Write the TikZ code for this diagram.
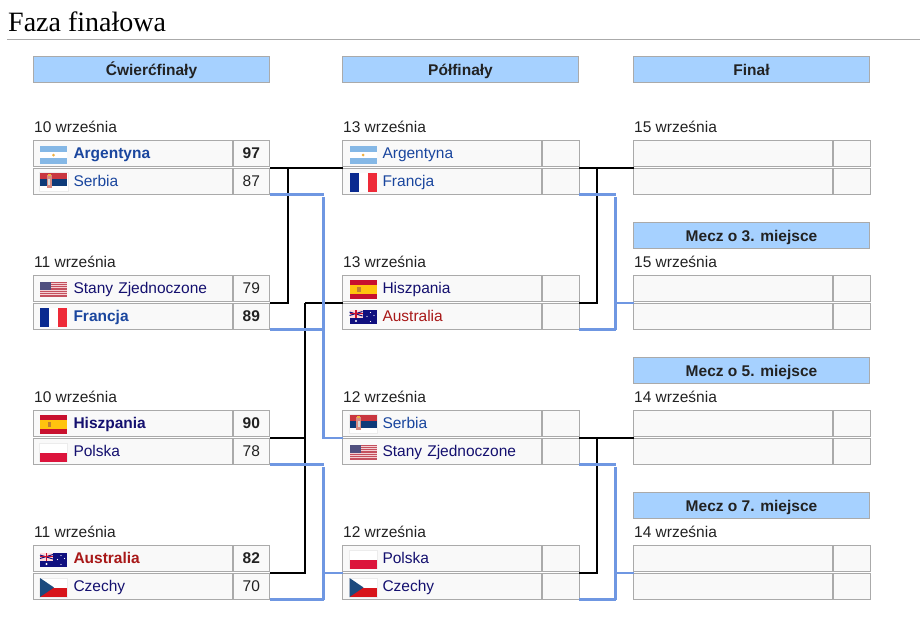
\documentclass[tikz,border=0pt]{standalone}
\usepackage{fontspec}
\setmainfont{Liberation Sans}
\newfontfamily\titlefont{Liberation Serif}
\definecolor{headblue}{HTML}{A6D1FF}
\definecolor{cellgray}{HTML}{F9F9F9}
\definecolor{bordergray}{HTML}{AAAAAA}
\definecolor{loseblue}{HTML}{6F97E2}
\definecolor{linkblue}{HTML}{1A469E}
\definecolor{visitblue}{HTML}{14106F}
\definecolor{redlink}{HTML}{A81818}
\definecolor{inktext}{HTML}{222222}
\definecolor{flagsky}{HTML}{85B8E6}
\definecolor{flaggold}{HTML}{EFB040}
\definecolor{flagred}{HTML}{C9363F}
\definecolor{flagnavy}{HTML}{0E3A78}
\definecolor{flagcrest}{HTML}{D98A80}
\definecolor{flagfrab}{HTML}{0A2A90}
\definecolor{flagfrar}{HTML}{EE2A38}
\definecolor{flagpink}{HTML}{F3CFD3}
\definecolor{flagstripe}{HTML}{C4505E}
\definecolor{flagcanton}{HTML}{50507F}
\definecolor{flagespr}{HTML}{C8102E}
\definecolor{flagespy}{HTML}{FFC30F}
\definecolor{flagespm}{HTML}{C08030}
\definecolor{flagausb}{HTML}{10107F}
\definecolor{flagpolr}{HTML}{DC143C}
\definecolor{flagczeb}{HTML}{1C4A7E}
\definecolor{flagczer}{HTML}{D7141A}
\tikzset{
    cell/.style={draw=bordergray, fill=cellgray, line width=1pt, inner sep=0pt, outer sep=0pt, anchor=north west},
    team/.style={cell, text width=199pt, minimum height=26.5pt, align=left, font=\fontsize{15.5}{18}\selectfont,
        execute at begin node={\hspace*{40pt}\rule[-8.2pt]{0pt}{26.5pt}}},
    score/.style={cell, minimum width=36.5pt, minimum height=26.5pt, text=inktext, font=\fontsize{15.5}{18}\selectfont},
    head/.style={cell, fill=headblue, minimum width=236pt, minimum height=26pt, text=inktext,
        text height=13pt, text depth=2pt, font=\fontsize{15.5}{18}\selectfont\bfseries},
    datelab/.style={anchor=base west, inner sep=0pt, text=inktext, font=\fontsize{15.5}{18}\selectfont},
    winline/.style={black, line width=2pt},
    loseline/.style={loseblue, line width=2.5pt},
    losethick/.style={loseblue, line width=3pt},
    losethin/.style={loseblue, line width=2pt},
}
% flags: #1 = left edge, #2 = middle of the flag
\newcommand{\flagarg}[2]{\begin{scope}[shift={(#1,#2)}]
    \fill [white] (0,-9) rectangle (27,9);
    \fill [flagsky] (0,-9) rectangle (27,-3);
    \fill [flagsky] (0,3) rectangle (27,9);
    \fill [flaggold] (13.5,0) circle (1.5);
\end{scope}}
\newcommand{\flagsrb}[2]{\begin{scope}[shift={(#1,#2)}]
    \draw [gray!15, fill=white] (-0.5,-9.5) rectangle (28,9.5);
    \fill [flagred] (0,-9.5) rectangle (27,-3);
    \fill [flagnavy] (0,-3) rectangle (27,3.5);
    \fill [flagcrest] (6.5,-7) rectangle (11.5,6);
    \fill [flaggold] (7.5,-8.5) rectangle (10.5,-6);
    \fill [white!70!gray] (8,-3) rectangle (10,3);
\end{scope}}
\newcommand{\flagfra}[2]{\begin{scope}[shift={(#1,#2)}]
    \fill [white] (0,-9.5) rectangle (27,9.5);
    \fill [flagfrab] (0,-9.5) rectangle (9,9.5);
    \fill [flagfrar] (18,-9.5) rectangle (27,9.5);
\end{scope}}
\newcommand{\flagusa}[2]{\begin{scope}[shift={(#1,#2)}]
    \fill [flagpink] (0,-7.5) rectangle (27,7.5);
    \fill [flagstripe] (0,-7.5) rectangle (27,-6.4);
    \fill [flagstripe] (0,-5.2) rectangle (27,-4.1);
    \fill [flagstripe] (0,-2.9) rectangle (27,-1.8);
    \fill [flagstripe] (0,-0.6) rectangle (27,0.5);
    \fill [flagstripe] (0,1.7) rectangle (27,2.8);
    \fill [flagstripe] (0,4) rectangle (27,5.1);
    \fill [flagstripe] (0,6.3) rectangle (27,7.5);
    \fill [flagcanton] (0,-7.5) rectangle (11,0.5);
\end{scope}}
\newcommand{\flagesp}[2]{\begin{scope}[shift={(#1,#2)}]
    \fill [flagespr] (0,-9.5) rectangle (27,9.5);
    \fill [flagespy] (0,-4.7) rectangle (27,4.7);
    \fill [flagespm] (7.5,-2.5) rectangle (11,2.5);
\end{scope}}
\newcommand{\flagaus}[2]{\begin{scope}[shift={(#1,#2)}]
    \fill [flagausb] (0,-7) rectangle (27,7);
    \fill [white!85!red] (0,-7) rectangle (13,0.5);
    \draw [flagausb, line width=1pt] (0,-5) -- (13,-1) (0,-1.5) -- (13,-5.5);
    \draw [flagespr, line width=1.2pt] (6.5,-7) -- (6.5,0.5) (0,-3.3) -- (13,-3.3);
    \fill [white] (6.5,4) circle (1.2);
    \fill [white] (21,-4.5) circle (0.6) (17.5,-0.5) circle (0.6) (24.5,-1.5) circle (0.6) (21,4.5) circle (0.7);
\end{scope}}
\newcommand{\flagpol}[2]{\begin{scope}[shift={(#1,#2)}]
    \draw [gray!15, fill=white] (-0.5,-9.5) rectangle (27.5,9);
    \fill [flagpolr] (0,0) rectangle (27,9);
\end{scope}}
\newcommand{\flagcze}[2]{\begin{scope}[shift={(#1,#2)}]
    \draw [gray!15, fill=white] (-0.5,-9.5) rectangle (27.5,9.5);
    \fill [flagczer] (0,0) rectangle (27,9.5);
    \fill [flagczeb] (0,-9.5) -- (14,0) -- (0,9.5) -- cycle;
\end{scope}}

\begin{document}
\begin{tikzpicture}[x=1pt, y=-1pt]
    \useasboundingbox (0,0) rectangle (920,629);
    \node (title) [anchor=base west, inner sep=0pt, font=\titlefont\fontsize{28}{32}\selectfont] at (8,31.5) {Faza finałowa};
    \draw [bordergray, line width=1pt] (7,39.5) -- (920,39.5);
    \node (headq) [head] at (33.5,56.5) {Ćwierćfinały};
    \node (headp) [head] at (342.5,56.5) {Półfinały};
    \node (headf) [head] at (633.5,56.5) {Finał};
    % quarter-finals
    \node (dq1) [datelab] at (34,132.5) {10 września};
    \node (q1a) [team, text=linkblue] at (33.5,140) {\textbf{Argentyna}};
    \node (q1as) [score] at (233,140) {\textbf{97}};
    \node (q1b) [team, text=linkblue] at (33.5,168) {Serbia};
    \node (q1bs) [score] at (233,168) {87};
    \node (dq2) [datelab] at (34,267.5) {11 września};
    \node (q2a) [team, text=visitblue] at (33.5,275) {Stany Zjednoczone};
    \node (q2as) [score] at (233,275) {79};
    \node (q2b) [team, text=linkblue] at (33.5,303) {\textbf{Francja}};
    \node (q2bs) [score] at (233,303) {\textbf{89}};
    \node (dq3) [datelab] at (34,402.5) {10 września};
    \node (q3a) [team, text=visitblue] at (33.5,410) {\textbf{Hiszpania}};
    \node (q3as) [score] at (233,410) {\textbf{90}};
    \node (q3b) [team, text=visitblue] at (33.5,438) {Polska};
    \node (q3bs) [score] at (233,438) {78};
    \node (dq4) [datelab] at (34,537.5) {11 września};
    \node (q4a) [team, text=redlink] at (33.5,545) {\textbf{Australia}};
    \node (q4as) [score] at (233,545) {\textbf{82}};
    \node (q4b) [team, text=visitblue] at (33.5,573) {Czechy};
    \node (q4bs) [score] at (233,573) {70};
    % semi-finals
    \node (dp1) [datelab] at (343,132.5) {13 września};
    \node (p1a) [team, text=linkblue] at (342.5,140) {Argentyna};
    \node (p1as) [score] at (542.5,140) {};
    \node (p1b) [team, text=linkblue] at (342.5,168) {Francja};
    \node (p1bs) [score] at (542.5,168) {};
    \node (dp2) [datelab] at (343,267.5) {13 września};
    \node (p2a) [team, text=visitblue] at (342.5,275) {Hiszpania};
    \node (p2as) [score] at (542.5,275) {};
    \node (p2b) [team, text=redlink] at (342.5,303) {Australia};
    \node (p2bs) [score] at (542.5,303) {};
    \node (dp3) [datelab] at (343,402.5) {12 września};
    \node (p3a) [team, text=linkblue] at (342.5,410) {Serbia};
    \node (p3as) [score] at (542.5,410) {};
    \node (p3b) [team, text=visitblue] at (342.5,438) {Stany Zjednoczone};
    \node (p3bs) [score] at (542.5,438) {};
    \node (dp4) [datelab] at (343,537.5) {12 września};
    \node (p4a) [team, text=visitblue] at (342.5,545) {Polska};
    \node (p4as) [score] at (542.5,545) {};
    \node (p4b) [team, text=visitblue] at (342.5,573) {Czechy};
    \node (p4bs) [score] at (542.5,573) {};
    % final and placement games
    \node (df1) [datelab] at (634,132.5) {15 września};
    \node (f1a) [team] at (633.5,140) {};
    \node (f1as) [score] at (833.5,140) {};
    \node (f1b) [team] at (633.5,168) {};
    \node (f1bs) [score] at (833.5,168) {};
    \node (head3) [head] at (633.5,222.5) {Mecz o 3. miejsce};
    \node (df2) [datelab] at (634,267.5) {15 września};
    \node (f2a) [team] at (633.5,275) {};
    \node (f2as) [score] at (833.5,275) {};
    \node (f2b) [team] at (633.5,303) {};
    \node (f2bs) [score] at (833.5,303) {};
    \node (head5) [head] at (633.5,357.5) {Mecz o 5. miejsce};
    \node (df3) [datelab] at (634,402.5) {14 września};
    \node (f3a) [team] at (633.5,410) {};
    \node (f3as) [score] at (833.5,410) {};
    \node (f3b) [team] at (633.5,438) {};
    \node (f3bs) [score] at (833.5,438) {};
    \node (head7) [head] at (633.5,492.5) {Mecz o 7. miejsce};
    \node (df4) [datelab] at (634,537.5) {14 września};
    \node (f4a) [team] at (633.5,545) {};
    \node (f4as) [score] at (833.5,545) {};
    \node (f4b) [team] at (633.5,573) {};
    \node (f4bs) [score] at (833.5,573) {};
    % flags
    \flagarg{40}{155}
    \flagsrb{40}{182}
    \flagusa{40}{289}
    \flagfra{40}{317}
    \flagesp{40}{424.5}
    \flagpol{40}{452.5}
    \flagaus{40}{560}
    \flagcze{40}{587.5}
    \flagarg{349.5}{155}
    \flagfra{349.5}{182}
    \flagesp{349.5}{289.5}
    \flagaus{349.5}{317}
    \flagsrb{349.5}{424}
    \flagusa{349.5}{452}
    \flagpol{349.5}{559.5}
    \flagcze{349.5}{587.5}
    % winners
    \coordinate (j1) at (288,168);
    \coordinate (j2) at (305,303);
    \coordinate (j3) at (305,438);
    \coordinate (j4) at (597,168);
    \coordinate (j5) at (597,438);
    \draw [winline] (q1bs.north east) -- (p1b.north west);
    \draw [winline] (q2bs.north east) -| (j1);
    \draw [winline] (j2) -- (p2b.north west);
    \draw [winline] (q3bs.north east) -- (j3);
    \draw [winline] (q4bs.north east) -| (j2);
    \draw [winline] (p1bs.north east) -- (f1b.north west);
    \draw [winline] (p2bs.north east) -| (j4);
    \draw [winline] (p3bs.north east) -- (f3b.north west);
    \draw [winline] (p4bs.north east) -| (j5);
    % losers
    \coordinate (k1) at (323.5,194.5);
    \coordinate (k2) at (323.5,329.5);
    \coordinate (k3) at (323.5,464.5);
    \coordinate (k4) at (323.5,599.5);
    \coordinate (k5) at (323.5,573);
    \coordinate (k6) at (615.5,194.5);
    \coordinate (k7) at (615.5,329.5);
    \coordinate (k8) at (615.5,303);
    \coordinate (k9) at (615.5,464.5);
    \coordinate (k10) at (615.5,599.5);
    \coordinate (k11) at (615.5,573);
    \draw [losethick] (q1bs.south east) -- (k1);
    \draw [losethick] (q2bs.south east) -- (k2);
    \draw [losethick] (q3bs.south east) -- (k3);
    \draw [losethick] (q4bs.south east) -- (k4);
    \draw [loseline, shorten <=2.5pt] (k1) -- (k2);
    \draw [loseline] (k2) |- (p3b.north west);
    \draw [loseline, shorten <=2.5pt] (k3) -- (k4);
    \draw [losethin] (k5) -- (p4b.north west);
    \draw [losethick] (p1bs.south east) -- (k6);
    \draw [losethick] (p2bs.south east) -- (k7);
    \draw [losethick] (p3bs.south east) -- (k9);
    \draw [losethick] (p4bs.south east) -- (k10);
    \draw [loseline, shorten <=2.5pt] (k6) -- (k7);
    \draw [loseline, shorten <=2.5pt] (k9) -- (k10);
    \draw [losethin] (k8) -- (f2b.north west);
    \draw [losethin] (k11) -- (f4b.north west);
\end{tikzpicture}
\end{document}
